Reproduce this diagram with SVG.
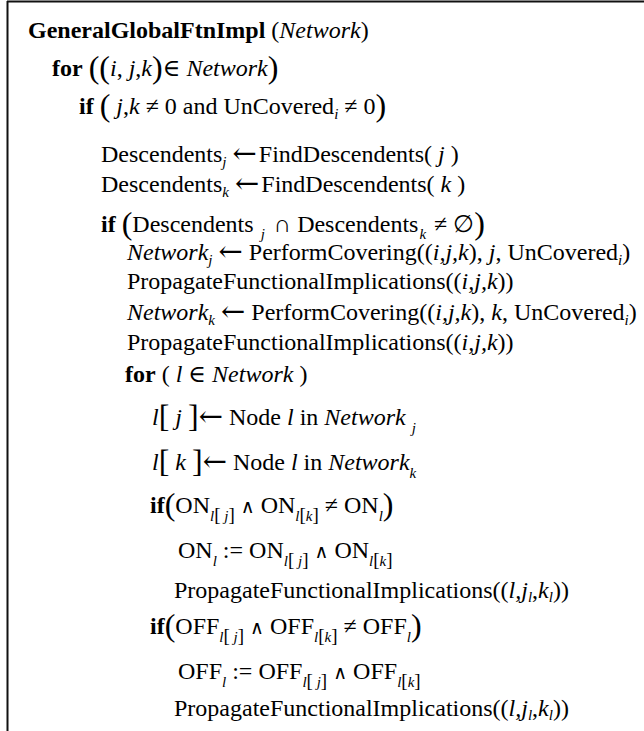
<svg xmlns="http://www.w3.org/2000/svg" width="644" height="731" viewBox="0 0 644 731">
<style>
text{font-family:"Liberation Serif","Times New Roman","DejaVu Serif",serif;font-size:24px;fill:#000}
.b{font-weight:bold}
.i{font-style:italic}
.s{font-size:15px}
.p{font-size:32px}
.q{font-size:19px}
.a{font-family:"DejaVu Serif",serif;font-size:29px}
.w{font-family:"DejaVu Serif",serif;font-size:19px}
</style>
<rect width="644" height="731" fill="#fff"/>
<g id="frame">
<line x1="7" y1="1.5" x2="644" y2="1.5" stroke="#111" stroke-width="2"/>
<line x1="7.5" y1="1" x2="7.5" y2="731" stroke="#111" stroke-width="2"/>
</g>
<g id="code">
<text x="28" y="38"><tspan class="b">GeneralGlobalFtnImpl</tspan> (<tspan class="i">Network</tspan>)</text>
<text x="52" y="76"><tspan class="b">for</tspan> <tspan class="p" dy="2">((</tspan><tspan class="i" dy="-2">i</tspan>, <tspan class="i">j</tspan>,<tspan class="i">k</tspan><tspan class="p" dy="2">)</tspan><tspan dy="-2">∈ </tspan><tspan class="i">Network</tspan><tspan class="p" dy="2">)</tspan></text>
<text x="79" y="114"><tspan class="b">if</tspan> <tspan class="p" dy="2">(</tspan><tspan dy="-2"> </tspan><tspan class="i">j</tspan>,<tspan class="i">k</tspan> ≠ 0 and UnCovered<tspan class="s i" dy="5">i</tspan><tspan dy="-5"> ≠ 0</tspan><tspan class="p" dy="2">)</tspan></text>
<text x="101" y="162">Descendents<tspan class="s i" dy="5">j</tspan><tspan class="a" dy="-4" dx="6">←</tspan><tspan dy="-1" dx="2">FindDescendents( </tspan><tspan class="i">j</tspan> )</text>
<text x="101" y="192">Descendents<tspan class="s i" dy="5">k</tspan><tspan class="a" dy="-4" dx="6">←</tspan><tspan dy="-1" dx="2">FindDescendents( </tspan><tspan class="i">k</tspan> )</text>
<text x="101" y="232"><tspan class="b">if</tspan> <tspan class="p" dy="2">(</tspan><tspan dy="-2">Descendents</tspan><tspan class="s i" dy="7" dx="7">j</tspan><tspan dy="-7" dx="3"> ∩ Descendents</tspan><tspan class="s i" dy="7" dx="1">k</tspan><tspan dy="-7" dx="2"> ≠ ∅</tspan><tspan class="p" dy="2">)</tspan></text>
<text x="127" y="260"><tspan class="i">Network</tspan><tspan class="s i" dy="5">j</tspan><tspan dy="-5"> </tspan><tspan class="a" dy="1">←</tspan><tspan dy="-1"> PerformCovering((</tspan><tspan class="i">i,j,k</tspan>), <tspan class="i">j</tspan>, UnCovered<tspan class="s i" dy="5">i</tspan><tspan dy="-5">)</tspan></text>
<text x="127" y="289">PropagateFunctionalImplications((<tspan class="i">i,j,k</tspan>))</text>
<text x="127" y="320"><tspan class="i">Network</tspan><tspan class="s i" dy="5">k</tspan><tspan dy="-5"> </tspan><tspan class="a" dy="1">←</tspan><tspan dy="-1"> PerformCovering((</tspan><tspan class="i">i,j,k</tspan>), <tspan class="i">k</tspan>, UnCovered<tspan class="s i" dy="5">i</tspan><tspan dy="-5">)</tspan></text>
<text x="127" y="350">PropagateFunctionalImplications((<tspan class="i">i,j,k</tspan>))</text>
<text x="125" y="382"><tspan class="b">for</tspan> ( <tspan class="i">l</tspan> ∈ <tspan class="i">Network</tspan> )</text>
<text x="152" y="425"><tspan class="i">l</tspan><tspan class="p" dy="2">[</tspan><tspan class="i" dy="-2"> j </tspan><tspan class="p" dy="2">]</tspan><tspan class="a" dy="-1">←</tspan><tspan dy="-1"> Node </tspan><tspan class="i">l</tspan> in <tspan class="i">Network </tspan><tspan class="s i" dy="8">j</tspan></text>
<text x="152" y="470"><tspan class="i">l</tspan><tspan class="p" dy="2">[</tspan><tspan class="i" dy="-2"> k </tspan><tspan class="p" dy="2">]</tspan><tspan class="a" dy="-1">←</tspan><tspan dy="-1"> Node </tspan><tspan class="i">l</tspan> in <tspan class="i">Network</tspan><tspan class="s i" dy="8">k</tspan></text>
<text x="150" y="513"><tspan class="b">if</tspan><tspan class="p" dy="2">(</tspan><tspan dy="-2">ON</tspan><tspan class="s i" dy="8">l</tspan><tspan class="q">[</tspan><tspan class="s i"> j</tspan><tspan class="q">]</tspan><tspan dy="-8"> </tspan><tspan class="w">∧</tspan> ON<tspan class="s i" dy="8">l</tspan><tspan class="q">[</tspan><tspan class="s i">k</tspan><tspan class="q">]</tspan><tspan dy="-8"> ≠ ON</tspan><tspan class="s i" dy="8">l</tspan><tspan class="p" dy="-6">)</tspan></text>
<text x="178" y="558">ON<tspan class="s i" dy="8">l</tspan><tspan dy="-8"> := ON</tspan><tspan class="s i" dy="8">l</tspan><tspan class="q">[</tspan><tspan class="s i"> j</tspan><tspan class="q">]</tspan><tspan dy="-8"> </tspan><tspan class="w">∧</tspan> ON<tspan class="s i" dy="8">l</tspan><tspan class="q">[</tspan><tspan class="s i">k</tspan><tspan class="q">]</tspan></text>
<text x="174" y="598">PropagateFunctionalImplications((<tspan class="i">l,j</tspan><tspan class="s i" dy="4">l</tspan><tspan dy="-4">,</tspan><tspan class="i">k</tspan><tspan class="s i" dy="4">l</tspan><tspan dy="-4">))</tspan></text>
<text x="150" y="634"><tspan class="b">if</tspan><tspan class="p" dy="2">(</tspan><tspan dy="-2">OFF</tspan><tspan class="s i" dy="8">l</tspan><tspan class="q">[</tspan><tspan class="s i"> j</tspan><tspan class="q">]</tspan><tspan dy="-8"> </tspan><tspan class="w">∧</tspan> OFF<tspan class="s i" dy="8">l</tspan><tspan class="q">[</tspan><tspan class="s i">k</tspan><tspan class="q">]</tspan><tspan dy="-8"> ≠ OFF</tspan><tspan class="s i" dy="8">l</tspan><tspan class="p" dy="-6">)</tspan></text>
<text x="178" y="679">OFF<tspan class="s i" dy="8">l</tspan><tspan dy="-8"> := OFF</tspan><tspan class="s i" dy="8">l</tspan><tspan class="q">[</tspan><tspan class="s i"> j</tspan><tspan class="q">]</tspan><tspan dy="-8"> </tspan><tspan class="w">∧</tspan> OFF<tspan class="s i" dy="8">l</tspan><tspan class="q">[</tspan><tspan class="s i">k</tspan><tspan class="q">]</tspan></text>
<text x="174" y="716">PropagateFunctionalImplications((<tspan class="i">l,j</tspan><tspan class="s i" dy="4">l</tspan><tspan dy="-4">,</tspan><tspan class="i">k</tspan><tspan class="s i" dy="4">l</tspan><tspan dy="-4">))</tspan></text>
</g>
</svg>
